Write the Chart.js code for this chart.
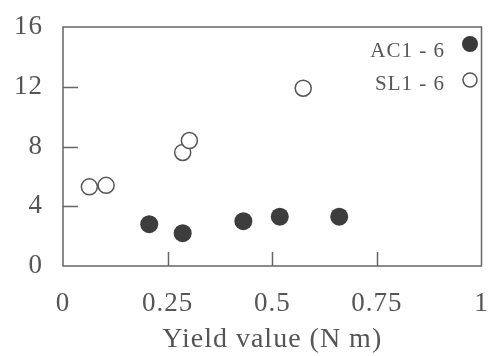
<!DOCTYPE html>
<html>
<head>
<meta charset="utf-8">
<script src="https://cdn.jsdelivr.net/npm/chart.js@4/dist/chart.umd.min.js"></script>
<style>
html,body{margin:0;padding:0;background:#fff;}
#wrap{width:491px;height:356px;position:relative;}
</style>
</head>
<body>
<div id="wrap"><canvas id="c" width="491" height="356"></canvas></div>
<script>
// Data
const acX = [0.206, 0.286, 0.431, 0.518, 0.66];
const acY = [2.8, 2.2, 3.0, 3.3, 3.3];
const slX = [0.063, 0.103, 0.286, 0.302, 0.574];
const slY = [5.3, 5.4, 7.6, 8.4, 11.9];
const xTicks = [0, 0.25, 0.5, 0.75, 1];
const yTicks = [0, 4, 8, 12, 16];
const seriesNames = ['AC1 - 6', 'SL1 - 6'];
const xTitle = 'Yield value (N m)';

const FONT = "'Liberation Serif','DejaVu Serif',serif";
const TXT = '#555';
const LINE = '#666';

const spacingPlugin = {
  id: 'spacing',
  beforeDraw(chart) { chart.ctx.letterSpacing = '1px'; },
  beforeDatasetsDraw(chart) { chart.ctx.letterSpacing = '0px'; }
};

const framePlugin = {
  id: 'frame',
  afterDatasetsDraw(chart) {
    const {ctx, chartArea: a, scales: {x, y}} = chart;
    ctx.save();
    ctx.strokeStyle = LINE;
    ctx.lineWidth = 1.5;
    ctx.strokeRect(a.left, a.top, a.right - a.left, a.bottom - a.top);
    ctx.beginPath();
    yTicks.slice(1, -1).forEach(v => {
      const py = Math.round(y.getPixelForValue(v)) + 0.5;
      ctx.moveTo(a.left, py); ctx.lineTo(a.left + 15, py);
    });
    xTicks.slice(1, -1).forEach(v => {
      const px = Math.round(x.getPixelForValue(v)) + 0.5;
      ctx.moveTo(px, a.bottom); ctx.lineTo(px, a.bottom - 14);
    });
    ctx.stroke();
    // legend
    ctx.letterSpacing = '1px';
    ctx.font = '21px ' + FONT;
    ctx.fillStyle = TXT;
    ctx.textAlign = 'right';
    ctx.textBaseline = 'alphabetic';
    ctx.fillText(seriesNames[0], 445, 57);
    ctx.fillText(seriesNames[1], 445, 90);
    ctx.letterSpacing = '0px';
    ctx.beginPath();
    ctx.arc(470, 44, 8, 0, Math.PI * 2);
    ctx.fillStyle = '#3a3a3a';
    ctx.fill();
    ctx.beginPath();
    ctx.arc(470, 80, 7, 0, Math.PI * 2);
    ctx.fillStyle = '#fff';
    ctx.fill();
    ctx.strokeStyle = '#555';
    ctx.lineWidth = 1.5;
    ctx.stroke();
    ctx.restore();
  }
};

new Chart(document.getElementById('c'), {
  type: 'scatter',
  data: {
    datasets: [
      {
        label: seriesNames[0],
        data: acX.map((v, i) => ({x: v, y: acY[i]})),
        pointRadius: 9,
        pointBackgroundColor: '#3d3d3d',
        pointBorderColor: '#3d3d3d',
        pointBorderWidth: 0,
        clip: false
      },
      {
        label: seriesNames[1],
        data: slX.map((v, i) => ({x: v, y: slY[i]})),
        pointRadius: 8,
        pointBackgroundColor: '#fff',
        pointBorderColor: '#555',
        pointBorderWidth: 1.5,
        clip: false
      }
    ]
  },
  options: {
    responsive: false,
    animation: false,
    layout: {padding: {top: 27, right: 2, left: 0, bottom: 0}},
    plugins: {legend: {display: false}, tooltip: {enabled: false}},
    scales: {
      x: {
        type: 'linear', min: 0, max: 1,
        afterBuildTicks: s => { s.ticks = xTicks.map(v => ({value: v})); },
        afterFit: s => { s.height = 90; s.paddingLeft = 0; s.paddingRight = 0; },
        grid: {display: false, drawTicks: false},
        border: {display: false},
        ticks: {
          padding: 22, color: TXT, font: {family: FONT, size: 27},
          maxRotation: 0, autoSkip: false,
          callback: v => String(v)
        },
        title: {display: true, text: xTitle, color: TXT, font: {family: FONT, size: 28}, padding: {top: 4, bottom: 0}}
      },
      y: {
        type: 'linear', min: 0, max: 16,
        afterBuildTicks: s => { s.ticks = yTicks.map(v => ({value: v})); },
        afterFit: s => { s.width = 63; s.paddingTop = 0; s.paddingBottom = 0; },
        grid: {display: false, drawTicks: false},
        border: {display: false},
        ticks: {padding: 20, color: TXT, font: {family: FONT, size: 27}, callback: v => String(v)}
      }
    }
  },
  plugins: [spacingPlugin, framePlugin]
});
</script>
</body>
</html>
